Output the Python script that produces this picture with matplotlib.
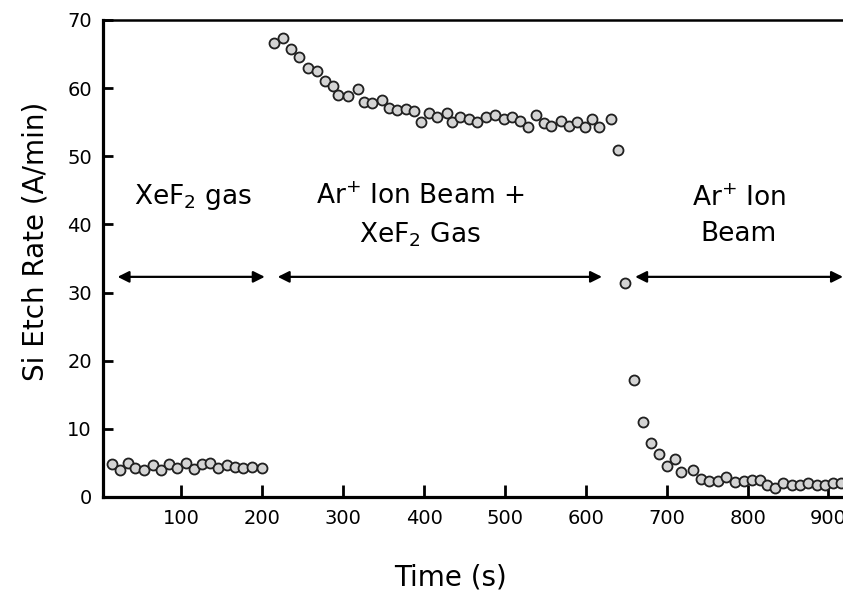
import matplotlib
matplotlib.use("Agg")
import matplotlib.pyplot as plt

plt.rcParams['font.family'] = ['DejaVu Sans']
plt.rcParams['mathtext.fontset'] = 'dejavusans'

# Phase 1: XeF2 gas only
t_gas = [14, 24, 34, 43, 54, 65, 75, 84, 94, 105, 115, 125, 135, 145, 156, 166, 176, 187, 199]
r_gas = [4.85, 3.9, 4.95, 4.2, 3.95, 4.7, 3.9, 4.8, 4.2, 4.95, 4.05, 4.8, 4.95, 4.2, 4.7, 4.45, 4.2, 4.45, 4.2]

# Phase 2: Ar+ ion beam + XeF2 gas
t_both = [214, 225, 236, 245, 256, 268, 277, 287, 294, 306, 318, 326, 336, 348, 357,
          366, 378, 388, 396, 406, 416, 428, 435, 445, 456, 466, 476, 488, 499, 509,
          518, 528, 538, 548, 557, 569, 579, 589, 599, 608, 616, 631]
r_both = [66.6, 67.4, 65.8, 64.5, 63.0, 62.5, 61.1, 60.3, 59.0, 58.9, 59.8, 57.9, 57.8, 58.2, 57.1,
          56.8, 56.9, 56.6, 55.1, 56.3, 55.8, 56.3, 55.1, 55.7, 55.4, 55.1, 55.7, 56.1, 55.4, 55.7,
          55.2, 54.3, 56.0, 54.9, 54.5, 55.2, 54.4, 55.1, 54.3, 55.5, 54.3, 55.4]

# Phase 3: Ar+ ion beam only
t_ion = [640, 648, 660, 671, 680, 690, 700, 710, 718, 732, 742, 752, 763, 773, 784,
         795, 805, 815, 824, 834, 844, 855, 865, 875, 886, 896, 906, 915]
r_ion = [50.9, 31.4, 17.2, 11.0, 7.9, 6.3, 4.5, 5.5, 3.7, 4.0, 2.6, 2.3, 2.4, 2.9, 2.2,
         2.3, 2.5, 2.5, 1.8, 1.3, 2.1, 1.8, 1.8, 2.1, 1.8, 1.8, 2.0, 2.0]

x_ticks = [100, 200, 300, 400, 500, 600, 700, 800, 900]
y_ticks = [0, 10, 20, 30, 40, 50, 60, 70]

fig = plt.figure(figsize=(8.43, 6.06), dpi=100)
ax = fig.add_axes([0.1222, 0.180, 0.8778, 0.787])

mk = dict(marker='o', linestyle='none', markersize=7.2, markerfacecolor='#d4d4d4',
          markeredgecolor='#202020', markeredgewidth=1.3, clip_on=False, zorder=3)
for t, r in [(t_gas, r_gas), (t_both, r_both), (t_ion, r_ion)]:
    ax.plot(t, r, **mk)

ax.set_xlim(3, 918)
ax.set_ylim(0, 70)
ax.set_xticks(x_ticks)
ax.set_yticks(y_ticks)

for s in ['left', 'bottom']:
    ax.spines[s].set_linewidth(2.3)
ax.spines['top'].set_linewidth(1.8)
ax.spines['right'].set_visible(False)
ax.tick_params(axis='both', direction='in', width=2, labelsize=14, colors='black')
ax.tick_params(axis='y', length=7, pad=8, right=False)
ax.tick_params(axis='x', length=9, pad=9, top=False)

ax.set_xlabel('Time (s)', fontsize=20)
ax.set_ylabel('Si Etch Rate (A/min)', fontsize=20)
ax.xaxis.set_label_coords(0.47, -0.14)
ax.yaxis.set_label_coords(-0.072, 0.535)

txt = dict(fontsize=19, ha='center', va='center', linespacing=1.45)
ax.text(114, 44.0, r'XeF$_2$ gas', **txt)
ax.text(395, 41.2, 'Ar$^{+}$ Ion Beam +\nXeF$_2$ Gas', **txt)
ax.text(789, 41.2, 'Ar$^{+}$ Ion\nBeam', **txt)

ap = dict(arrowstyle='<|-|>', color='black', lw=1.6, mutation_scale=17, shrinkA=0, shrinkB=0)
ay = 32.3
for x0, x1 in [(21, 203), (219, 620), (661, 918)]:
    ax.annotate('', xy=(x1, ay), xytext=(x0, ay), arrowprops=ap, annotation_clip=False)

fig.savefig('out.png', dpi=100)
